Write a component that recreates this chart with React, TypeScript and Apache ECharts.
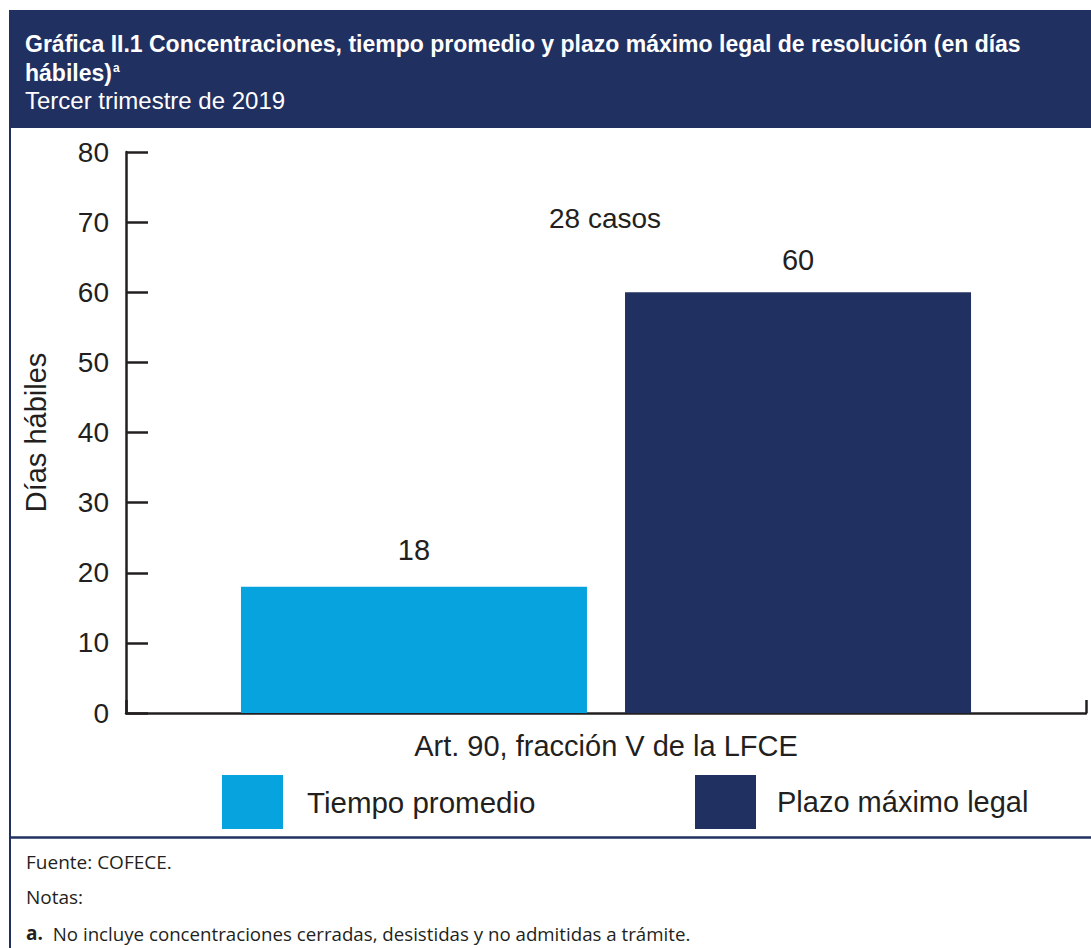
import React, { useEffect, useRef } from "react";
import * as echarts from "echarts";

const categories = ["Art. 90, fracción V de la LFCE"];
const seriesNames = ["Tiempo promedio", "Plazo máximo legal"];
const tiempoPromedio = [18];
const plazoMaximo = [60];
const yTicks = { min: 0, max: 80, interval: 10 };
const annotation = "28 casos";
const titleLine1 = "Gráfica II.1 Concentraciones, tiempo promedio y plazo máximo legal de resolución (en días";
const titleLine2 = "hábiles)";
const subtitle = "Tercer trimestre de 2019";
const yAxisName = "Días hábiles";
const source = "Fuente: COFECE.";
const notesLabel = "Notas:";
const noteA = "No incluye concentraciones cerradas, desistidas y no admitidas a trámite.";

const NAVY = "#203061";
const BLUE = "#06a3de";
const INK = "#231f20";
const FONT = "'Liberation Sans', Arial, sans-serif";
const NOTE_FONT = "'Open Sans', 'Liberation Sans', sans-serif";

export default function App() {
  const ref = useRef<HTMLDivElement>(null);
  useEffect(() => {
    if (!ref.current) return;
    const chart = echarts.init(ref.current, undefined, { renderer: "svg" });
    chart.setOption({
      animation: false,
      backgroundColor: "#ffffff",
      textStyle: { fontFamily: FONT },
      grid: { left: 126, right: 5, top: 152, bottom: 235, containLabel: false },
      legend: [
        {
          data: [seriesNames[0]],
          left: 222,
          top: 775,
          padding: 0,
          itemWidth: 61,
          itemHeight: 54,
          icon: "rect",
          selectedMode: false,
          textStyle: { fontSize: 29.5, color: INK, fontFamily: FONT, padding: [0, 0, 0, 19] },
        },
        {
          data: [seriesNames[1]],
          left: 695,
          top: 775,
          padding: 0,
          itemWidth: 61,
          itemHeight: 54,
          icon: "rect",
          selectedMode: false,
          textStyle: { fontSize: 29, color: INK, fontFamily: FONT, padding: [0, 0, 0, 16] },
        },
      ],
      xAxis: {
        type: "category",
        data: categories,
        axisLine: { show: true, lineStyle: { color: INK, width: 2.5 } },
        axisTick: { show: true, inside: true, length: 13, lineStyle: { color: INK, width: 2.5 } },
        axisLabel: { fontSize: 29, color: INK, margin: 18, fontFamily: FONT },
      },
      yAxis: {
        type: "value",
        min: yTicks.min,
        max: yTicks.max,
        interval: yTicks.interval,
        name: yAxisName,
        nameLocation: "middle",
        nameGap: 76,
        nameTextStyle: { fontSize: 29, color: INK, fontFamily: FONT },
        axisLine: { show: true, lineStyle: { color: INK, width: 2.5 } },
        axisTick: { show: true, inside: true, length: 22, lineStyle: { color: INK, width: 2.5 } },
        axisLabel: { fontSize: 28, color: INK, margin: 17, fontFamily: FONT },
        splitLine: { show: false },
      },
      series: [
        {
          name: seriesNames[0],
          type: "bar",
          data: tiempoPromedio,
          barWidth: 346,
          barGap: "11%",
          itemStyle: { color: BLUE },
          label: { show: true, position: "top", distance: 22, fontSize: 29, color: INK, fontFamily: FONT },
        },
        {
          name: seriesNames[1],
          type: "bar",
          data: plazoMaximo,
          barWidth: 346,
          itemStyle: { color: NAVY },
          label: { show: true, position: "top", distance: 18, fontSize: 29, color: INK, fontFamily: FONT },
        },
      ],
      graphic: [
        { type: "rect", shape: { x: 9, y: 10, width: 1082, height: 118 }, style: { fill: NAVY }, z: 0 },
        {
          type: "text",
          x: 25,
          y: 44,
          style: {
            text: titleLine1,
            fill: "#ffffff",
            font: `bold 23px ${FONT}`,
            verticalAlign: "middle",
          },
        },
        {
          type: "text",
          x: 25,
          y: 73,
          style: {
            text: `{t|${titleLine2}}{s|a}`,
            rich: {
              t: { fill: "#ffffff", fontWeight: "bold", fontSize: 23, fontFamily: FONT },
              s: { fill: "#ffffff", fontWeight: "bold", fontSize: 12, verticalAlign: "top", padding: [0, 0, 10, 1], fontFamily: FONT },
            },
            fill: "#ffffff",
            fontSize: 23,
            fontWeight: "bold",
            fontFamily: FONT,
            verticalAlign: "middle",
          },
        },
        {
          type: "text",
          x: 25,
          y: 100,
          style: { text: subtitle, fill: "#ffffff", font: `24px ${FONT}`, verticalAlign: "middle" },
        },
        { type: "line", shape: { x1: 10, y1: 128, x2: 10, y2: 948 }, style: { stroke: NAVY, lineWidth: 2 } },
        { type: "line", shape: { x1: 10, y1: 837.5, x2: 1091, y2: 837.5 }, style: { stroke: NAVY, lineWidth: 2.5 } },
        {
          type: "text",
          x: 605,
          y: 218,
          style: { text: annotation, fill: INK, font: `28px ${FONT}`, align: "center", verticalAlign: "middle" },
        },
        {
          type: "text",
          x: 26,
          y: 862,
          style: { text: source, fill: INK, font: `19px ${NOTE_FONT}`, verticalAlign: "middle" },
        },
        {
          type: "text",
          x: 26,
          y: 897,
          style: { text: notesLabel, fill: INK, font: `19px ${NOTE_FONT}`, verticalAlign: "middle" },
        },
        {
          type: "text",
          x: 26,
          y: 933,
          style: {
            text: `{b|a.}  {n|${noteA}}`,
            rich: {
              b: { fontWeight: "bold", fontSize: 19, fill: INK, fontFamily: NOTE_FONT },
              n: { fontSize: 18.7, fill: INK, fontFamily: NOTE_FONT },
            },
            fontSize: 19,
            fill: INK,
            fontFamily: NOTE_FONT,
            verticalAlign: "middle",
          },
        },
      ],
    });
    return () => chart.dispose();
  }, []);
  return (
    <div
      ref={ref}
      style={{ position: "fixed", left: 0, top: 0, width: 1091, height: 948, background: "#fff" }}
    />
  );
}
